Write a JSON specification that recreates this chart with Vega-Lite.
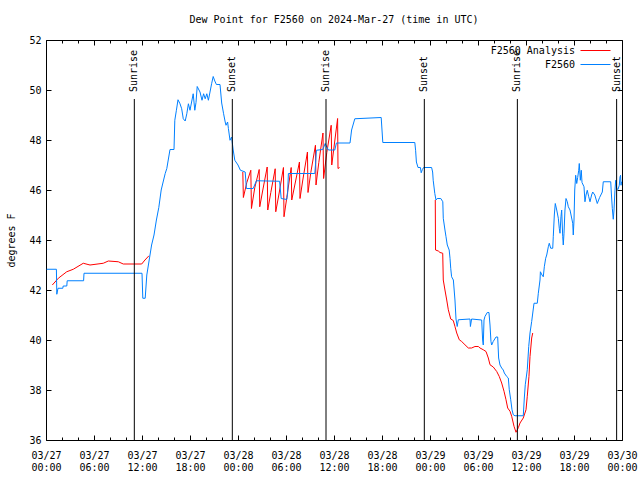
{
  "$schema": "https://vega.github.io/schema/vega-lite/v6.json",
  "width": 576,
  "height": 400,
  "autosize": {"type": "none"},
  "padding": {"left": 46, "top": 40, "right": 18, "bottom": 40},
  "background": "white",
  "title": {"text": "Dew Point for F2560 on 2024-Mar-27 (time in UTC)", "font": "DejaVu Sans Mono", "fontSize": 10, "fontWeight": "normal", "color": "black", "anchor": "middle", "frame": "group", "offset": 10},
  "config": {
    "view": {"stroke": "black", "strokeWidth": 1},
    "axis": {"domain": false, "grid": false, "tickColor": "black", "tickWidth": 1, "labelFont": "DejaVu Sans Mono", "labelFontSize": 10, "labelColor": "black", "titleFont": "DejaVu Sans Mono", "titleFontSize": 10, "titleFontWeight": "normal", "titleColor": "black"}
  },
  "datasets": {
    "obs": [
      {"h":0.08,"v":42.83},{"h":1.3,"v":42.83},{"h":1.35,"v":41.83},{"h":1.5,"v":42.07},{"h":2.1,"v":42.07},{"h":2.15,"v":42.16},{"h":2.6,"v":42.16},{"h":2.65,"v":42.37},{"h":4.7,"v":42.37},{"h":4.75,"v":42.67},{"h":12.0,"v":42.67},{"h":12.1,"v":41.67},{"h":12.4,"v":41.67},{"h":12.6,"v":42.6},{"h":12.9,"v":43.2},{"h":13.2,"v":43.8},{"h":13.5,"v":44.2},{"h":13.8,"v":44.8},{"h":14.1,"v":45.3},{"h":14.4,"v":46.0},{"h":14.7,"v":46.4},{"h":14.9,"v":46.66},{"h":15.1,"v":46.86},{"h":15.5,"v":47.62},{"h":16.0,"v":47.62},{"h":16.1,"v":48.79},{"h":16.3,"v":49.19},{"h":16.5,"v":49.61},{"h":16.75,"v":49.45},{"h":16.96,"v":49.25},{"h":17.16,"v":48.85},{"h":17.4,"v":48.76},{"h":17.6,"v":49.05},{"h":17.8,"v":49.45},{"h":18.0,"v":49.19},{"h":18.2,"v":49.52},{"h":18.4,"v":49.85},{"h":18.6,"v":49.19},{"h":18.75,"v":49.5},{"h":18.9,"v":50.14},{"h":19.25,"v":49.92},{"h":19.5,"v":49.59},{"h":19.7,"v":49.85},{"h":19.9,"v":49.65},{"h":20.1,"v":49.85},{"h":20.3,"v":49.59},{"h":20.5,"v":49.92},{"h":20.7,"v":50.25},{"h":20.9,"v":50.54},{"h":21.1,"v":50.36},{"h":21.3,"v":50.22},{"h":21.75,"v":50.22},{"h":21.96,"v":49.48},{"h":22.2,"v":49.05},{"h":22.4,"v":48.72},{"h":22.5,"v":48.59},{"h":22.7,"v":48.72},{"h":22.8,"v":48.46},{"h":23.0,"v":47.99},{"h":23.2,"v":48.12},{"h":23.4,"v":47.6},{"h":23.6,"v":47.19},{"h":24.0,"v":47.0},{"h":24.3,"v":46.79},{"h":24.9,"v":46.72},{"h":25.05,"v":46.06},{"h":25.9,"v":46.06},{"h":26.3,"v":46.37},{"h":29.2,"v":46.35},{"h":29.4,"v":45.66},{"h":30.1,"v":45.62},{"h":30.2,"v":45.86},{"h":30.3,"v":46.66},{"h":33.6,"v":46.66},{"h":33.7,"v":47.06},{"h":33.8,"v":47.59},{"h":34.6,"v":47.62},{"h":34.9,"v":47.86},{"h":35.1,"v":47.72},{"h":35.3,"v":47.6},{"h":36.1,"v":47.6},{"h":36.3,"v":47.88},{"h":38.0,"v":47.88},{"h":38.2,"v":48.4},{"h":38.6,"v":48.85},{"h":41.9,"v":48.9},{"h":42.1,"v":47.9},{"h":46.1,"v":47.9},{"h":46.2,"v":47.59},{"h":46.3,"v":47.12},{"h":46.5,"v":46.9},{"h":46.8,"v":46.9},{"h":46.9,"v":46.69},{"h":47.05,"v":46.82},{"h":47.2,"v":46.9},{"h":48.2,"v":46.9},{"h":48.33,"v":46.72},{"h":48.4,"v":46.39},{"h":48.6,"v":45.86},{"h":48.75,"v":45.6},{"h":48.9,"v":45.66},{"h":49.35,"v":45.66},{"h":49.6,"v":45.53},{"h":49.66,"v":44.87},{"h":49.87,"v":44.4},{"h":50.0,"v":44.13},{"h":50.16,"v":43.8},{"h":50.4,"v":43.6},{"h":50.5,"v":43.27},{"h":50.59,"v":42.87},{"h":50.7,"v":42.53},{"h":50.92,"v":42.4},{"h":51.12,"v":41.6},{"h":51.25,"v":40.84},{"h":51.4,"v":40.54},{"h":51.54,"v":40.81},{"h":53.0,"v":40.84},{"h":53.05,"v":40.54},{"h":53.2,"v":40.84},{"h":54.46,"v":40.8},{"h":54.58,"v":40.0},{"h":54.66,"v":39.8},{"h":54.75,"v":40.8},{"h":54.87,"v":40.94},{"h":55.16,"v":41.1},{"h":55.37,"v":41.1},{"h":55.5,"v":40.6},{"h":55.62,"v":39.94},{"h":55.71,"v":39.8},{"h":55.9,"v":39.94},{"h":56.25,"v":40.12},{"h":56.46,"v":40.12},{"h":56.58,"v":39.28},{"h":56.75,"v":39.0},{"h":56.96,"v":38.88},{"h":57.16,"v":38.8},{"h":57.29,"v":38.68},{"h":57.59,"v":38.54},{"h":57.79,"v":38.48},{"h":57.91,"v":38.01},{"h":58.09,"v":37.61},{"h":58.25,"v":37.21},{"h":58.41,"v":37.01},{"h":58.62,"v":36.97},{"h":59.66,"v":36.97},{"h":59.79,"v":37.68},{"h":59.91,"v":38.21},{"h":60.16,"v":38.81},{"h":60.34,"v":39.74},{"h":60.5,"v":40.28},{"h":60.71,"v":40.74},{"h":61.0,"v":41.47},{"h":61.41,"v":41.47},{"h":61.54,"v":41.87},{"h":61.75,"v":42.4},{"h":61.8,"v":42.73},{"h":62.0,"v":42.6},{"h":62.16,"v":42.53},{"h":62.29,"v":42.93},{"h":62.46,"v":43.27},{"h":62.59,"v":43.4},{"h":62.79,"v":43.73},{"h":62.91,"v":43.87},{"h":63.09,"v":43.67},{"h":63.34,"v":43.67},{"h":63.41,"v":44.13},{"h":63.54,"v":45.0},{"h":63.66,"v":45.46},{"h":63.84,"v":45.2},{"h":64.04,"v":44.87},{"h":64.16,"v":44.47},{"h":64.25,"v":44.27},{"h":64.37,"v":44.93},{"h":64.46,"v":45.2},{"h":64.59,"v":44.13},{"h":64.66,"v":43.8},{"h":64.75,"v":44.27},{"h":64.87,"v":45.2},{"h":65.0,"v":45.66},{"h":65.16,"v":45.53},{"h":65.29,"v":45.33},{"h":65.5,"v":45.2},{"h":65.84,"v":44.67},{"h":65.91,"v":44.2},{"h":66.0,"v":44.8},{"h":66.09,"v":46.0},{"h":66.21,"v":46.59},{"h":66.34,"v":46.26},{"h":66.46,"v":46.5},{"h":66.59,"v":46.79},{"h":66.66,"v":47.06},{"h":66.79,"v":46.39},{"h":66.91,"v":46.79},{"h":67.0,"v":46.3},{"h":67.25,"v":46.13},{"h":67.37,"v":45.53},{"h":67.5,"v":45.8},{"h":67.66,"v":45.99},{"h":67.84,"v":45.73},{"h":68.0,"v":45.53},{"h":68.2,"v":45.8},{"h":68.34,"v":45.92},{"h":68.6,"v":45.8},{"h":68.91,"v":45.46},{"h":69.2,"v":45.7},{"h":69.54,"v":45.92},{"h":69.66,"v":46.33},{"h":70.59,"v":46.33},{"h":70.66,"v":45.92},{"h":70.79,"v":45.26},{"h":70.91,"v":44.83},{"h":71.0,"v":45.2},{"h":71.12,"v":45.99},{"h":71.21,"v":46.39},{"h":71.34,"v":46.06},{"h":71.5,"v":46.02},{"h":71.66,"v":46.19},{"h":71.75,"v":46.52},{"h":71.82,"v":46.59},{"h":71.88,"v":46.19},{"h":71.94,"v":46.33}
    ],
    "ana": [
      {"h":0.79,"v":42.2,"g":1},{"h":1.54,"v":42.47,"g":1},{"h":2.59,"v":42.73,"g":1},{"h":3.41,"v":42.83,"g":1},{"h":4.66,"v":43.07,"g":1},{"h":5.5,"v":43.0,"g":1},{"h":7.16,"v":43.07,"g":1},{"h":7.79,"v":43.16,"g":1},{"h":9.04,"v":43.13,"g":1},{"h":9.66,"v":43.04,"g":1},{"h":11.96,"v":43.04,"g":1},{"h":12.37,"v":43.2,"g":1},{"h":12.87,"v":43.37,"g":1},
      {"h":24.6,"v":46.72,"g":2},{"h":24.67,"v":45.7,"g":2},{"h":25.1,"v":46.3,"g":2},{"h":25.6,"v":46.79,"g":2},{"h":25.68,"v":45.26,"g":2},{"h":26.1,"v":46.1,"g":2},{"h":26.65,"v":46.82,"g":2},{"h":26.72,"v":45.33,"g":2},{"h":27.1,"v":46.0,"g":2},{"h":27.65,"v":46.92,"g":2},{"h":27.72,"v":45.2,"g":2},{"h":28.1,"v":45.9,"g":2},{"h":28.65,"v":46.85,"g":2},{"h":28.72,"v":45.13,"g":2},{"h":29.1,"v":45.8,"g":2},{"h":29.68,"v":46.9,"g":2},{"h":29.75,"v":44.93,"g":2},{"h":30.1,"v":45.7,"g":2},{"h":30.65,"v":46.9,"g":2},{"h":30.72,"v":45.6,"g":2},{"h":31.1,"v":46.2,"g":2},{"h":31.68,"v":47.12,"g":2},{"h":31.75,"v":45.66,"g":2},{"h":32.1,"v":46.4,"g":2},{"h":32.68,"v":47.52,"g":2},{"h":32.75,"v":45.9,"g":2},{"h":33.1,"v":46.7,"g":2},{"h":33.68,"v":47.79,"g":2},{"h":33.75,"v":46.2,"g":2},{"h":34.1,"v":47.1,"g":2},{"h":34.62,"v":48.28,"g":2},{"h":34.7,"v":46.46,"g":2},{"h":35.1,"v":47.5,"g":2},{"h":35.65,"v":48.59,"g":2},{"h":35.72,"v":47.0,"g":2},{"h":36.45,"v":48.86,"g":2},{"h":36.5,"v":46.86,"g":2},{"h":36.7,"v":46.9,"g":2},
      {"h":48.66,"v":45.6,"g":3},{"h":48.69,"v":43.6,"g":3},{"h":49.04,"v":43.56,"g":3},{"h":49.25,"v":43.5,"g":3},{"h":49.59,"v":43.47,"g":3},{"h":49.66,"v":42.4,"g":3},{"h":49.87,"v":42.0,"g":3},{"h":50.09,"v":41.6,"g":3},{"h":50.29,"v":41.21,"g":3},{"h":50.59,"v":40.84,"g":3},{"h":50.91,"v":40.78,"g":3},{"h":51.12,"v":40.54,"g":3},{"h":51.34,"v":40.28,"g":3},{"h":51.66,"v":40.01,"g":3},{"h":51.96,"v":39.94,"g":3},{"h":52.37,"v":39.81,"g":3},{"h":52.79,"v":39.68,"g":3},{"h":53.2,"v":39.68,"g":3},{"h":53.62,"v":39.74,"g":3},{"h":54.04,"v":39.74,"g":3},{"h":54.25,"v":39.68,"g":3},{"h":54.66,"v":39.61,"g":3},{"h":55.0,"v":39.54,"g":3},{"h":55.29,"v":39.28,"g":3},{"h":55.5,"v":39.01,"g":3},{"h":55.91,"v":38.92,"g":3},{"h":56.34,"v":38.74,"g":3},{"h":56.66,"v":38.54,"g":3},{"h":56.96,"v":38.28,"g":3},{"h":57.25,"v":37.95,"g":3},{"h":57.5,"v":37.61,"g":3},{"h":57.71,"v":37.28,"g":3},{"h":58.0,"v":37.15,"g":3},{"h":58.21,"v":36.95,"g":3},{"h":58.5,"v":36.55,"g":3},{"h":58.75,"v":36.31,"g":3},{"h":59.04,"v":36.49,"g":3},{"h":59.25,"v":36.68,"g":3},{"h":59.66,"v":36.88,"g":3},{"h":60.0,"v":37.21,"g":3},{"h":60.16,"v":37.75,"g":3},{"h":60.37,"v":38.54,"g":3},{"h":60.5,"v":39.34,"g":3},{"h":60.71,"v":40.08,"g":3},{"h":60.84,"v":40.28,"g":3}
    ],
    "sun": [
      {"h":11.04,"label":"Sunrise"},{"h":23.29,"label":"Sunset"},{"h":35.0,"label":"Sunrise"},{"h":47.29,"label":"Sunset"},{"h":58.92,"label":"Sunrise"},{"h":71.33,"label":"Sunset"}
    ]
  },
  "layer": [
    {
      "data": {"name": "ana"},
      "mark": {"type": "line", "strokeWidth": 1},
      "encoding": {
        "x": {"field": "h", "type": "quantitative", "scale": {"domain": [0, 72], "nice": false, "zero": false},
              "axis": {"orient": "bottom", "title": null, "values": [0, 6, 12, 18, 24, 30, 36, 42, 48, 54, 60, 66, 72], "tickSize": -5, "labelPadding": 15, "labelFlush": false, "labelOverlap": false, "labelBaseline": "top", "labelLineHeight": 12,
                       "labelExpr": "['03/' + (27 + floor(datum.value / 24)), format(datum.value % 24, '02d') + ':00']"}},
        "y": {"field": "v", "type": "quantitative", "scale": {"domain": [36, 52], "nice": false, "zero": false},
              "axis": {"orient": "left", "title": "degrees F", "values": [36, 38, 40, 42, 44, 46, 48, 50, 52], "format": "d", "tickSize": -5, "labelPadding": 10, "titlePadding": 12}},
        "color": {"datum": "F2560 Analysis", "type": "nominal", "scale": {"domain": ["F2560 Analysis", "F2560"], "range": ["#ff0000", "#0080ff"]},
                  "legend": {"orient": "none", "legendX": 544, "legendY": 5, "title": null, "symbolType": "M-3,0H3", "symbolSize": 100, "symbolStrokeWidth": 1, "symbolFillColor": "transparent", "labelAlign": "right", "labelOffset": -26, "labelFont": "DejaVu Sans Mono", "labelFontSize": 10, "labelColor": "black", "rowPadding": 3, "padding": 0}},
        "detail": {"field": "g", "type": "nominal"}
      }
    },
    {
      "data": {"name": "obs"},
      "mark": {"type": "line", "strokeWidth": 1},
      "encoding": {
        "x": {"field": "h", "type": "quantitative", "axis": {"orient": "top", "title": null, "labels": false, "values": [0, 6, 12, 18, 24, 30, 36, 42, 48, 54, 60, 66, 72], "tickSize": -5}},
        "y": {"field": "v", "type": "quantitative", "axis": {"orient": "right", "title": null, "labels": false, "values": [36, 38, 40, 42, 44, 46, 48, 50, 52], "tickSize": -5}},
        "color": {"datum": "F2560", "type": "nominal"}
      }
    },
    {
      "data": {"name": "sun"},
      "mark": {"type": "rule", "color": "black", "strokeWidth": 1},
      "encoding": {
        "x": {"field": "h", "type": "quantitative", "axis": {"orient": "bottom", "title": null, "labels": false, "values": [2, 4, 8, 10, 14, 16, 20, 22, 26, 28, 32, 34, 38, 40, 44, 46, 50, 52, 56, 58, 62, 64, 68, 70], "tickSize": -3}},
        "y": {"datum": 49.64, "type": "quantitative", "axis": null},
        "y2": {"datum": 36}
      }
    },
    {
      "data": {"name": "sun"},
      "mark": {"type": "text", "angle": 270, "align": "left", "baseline": "middle", "font": "DejaVu Sans Mono", "fontSize": 10, "color": "black"},
      "encoding": {
        "x": {"field": "h", "type": "quantitative", "axis": {"orient": "top", "title": null, "labels": false, "values": [2, 4, 8, 10, 14, 16, 20, 22, 26, 28, 32, 34, 38, 40, 44, 46, 50, 52, 56, 58, 62, 64, 68, 70], "tickSize": -3}},
        "y": {"datum": 49.92, "type": "quantitative", "axis": null},
        "text": {"field": "label"}
      }
    }
  ],
  "resolve": {"axis": {"x": "independent", "y": "independent"}}
}
